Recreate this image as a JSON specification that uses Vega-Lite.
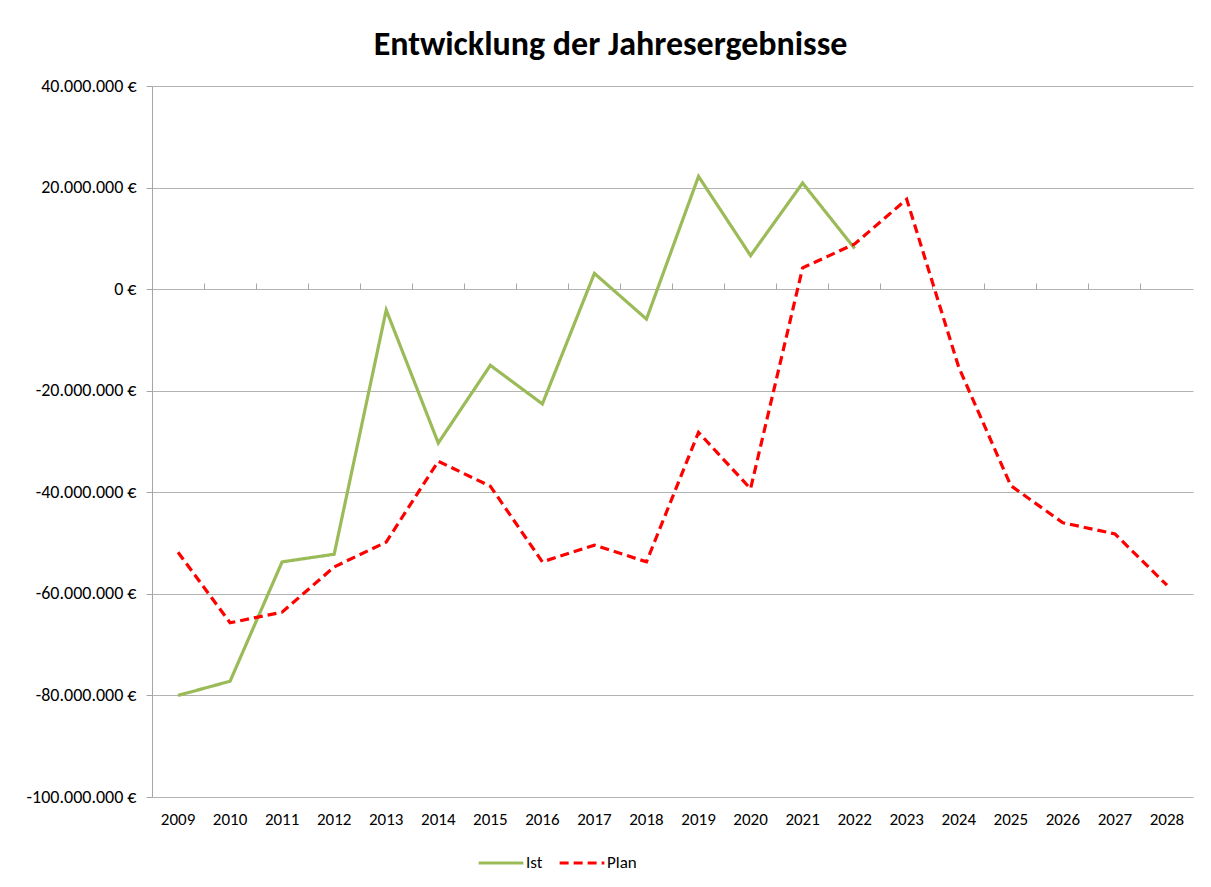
{
  "$schema": "https://vega.github.io/schema/vega-lite/v6.json",
  "width": 1041,
  "height": 711,
  "autosize": {"type": "none"},
  "padding": {"left": 152, "top": 86, "right": 18, "bottom": 90},
  "background": "white",
  "config": {
    "locale": {"number": {"decimal": ",", "thousands": ".", "grouping": [3], "currency": ["", " €"], "minus": "-"}},
    "font": "Carlito, Lato",
    "view": {"stroke": null}
  },
  "title": {
    "text": "Entwicklung der Jahresergebnisse",
    "fontSize": 34,
    "fontWeight": "bold",
    "font": "Carlito, Lato",
    "color": "#000000",
    "anchor": "middle",
    "dx": -62,
    "offset": 15
  },
  "data": {
    "values": [
      {"Jahr": "2009", "Reihe": "Ist", "Wert": -80000000},
      {"Jahr": "2010", "Reihe": "Ist", "Wert": -77200000},
      {"Jahr": "2011", "Reihe": "Ist", "Wert": -53700000},
      {"Jahr": "2012", "Reihe": "Ist", "Wert": -52200000},
      {"Jahr": "2013", "Reihe": "Ist", "Wert": -4100000},
      {"Jahr": "2014", "Reihe": "Ist", "Wert": -30300000},
      {"Jahr": "2015", "Reihe": "Ist", "Wert": -15000000},
      {"Jahr": "2016", "Reihe": "Ist", "Wert": -22600000},
      {"Jahr": "2017", "Reihe": "Ist", "Wert": 3100000},
      {"Jahr": "2018", "Reihe": "Ist", "Wert": -5900000},
      {"Jahr": "2019", "Reihe": "Ist", "Wert": 22200000},
      {"Jahr": "2020", "Reihe": "Ist", "Wert": 6600000},
      {"Jahr": "2021", "Reihe": "Ist", "Wert": 20900000},
      {"Jahr": "2022", "Reihe": "Ist", "Wert": 8000000},
      {"Jahr": "2009", "Reihe": "Plan", "Wert": -51800000},
      {"Jahr": "2010", "Reihe": "Plan", "Wert": -65700000},
      {"Jahr": "2011", "Reihe": "Plan", "Wert": -63600000},
      {"Jahr": "2012", "Reihe": "Plan", "Wert": -54700000},
      {"Jahr": "2013", "Reihe": "Plan", "Wert": -49800000},
      {"Jahr": "2014", "Reihe": "Plan", "Wert": -33900000},
      {"Jahr": "2015", "Reihe": "Plan", "Wert": -38800000},
      {"Jahr": "2016", "Reihe": "Plan", "Wert": -53700000},
      {"Jahr": "2017", "Reihe": "Plan", "Wert": -50400000},
      {"Jahr": "2018", "Reihe": "Plan", "Wert": -53700000},
      {"Jahr": "2019", "Reihe": "Plan", "Wert": -28200000},
      {"Jahr": "2020", "Reihe": "Plan", "Wert": -39300000},
      {"Jahr": "2021", "Reihe": "Plan", "Wert": 4200000},
      {"Jahr": "2022", "Reihe": "Plan", "Wert": 8900000},
      {"Jahr": "2023", "Reihe": "Plan", "Wert": 17700000},
      {"Jahr": "2024", "Reihe": "Plan", "Wert": -15400000},
      {"Jahr": "2025", "Reihe": "Plan", "Wert": -38700000},
      {"Jahr": "2026", "Reihe": "Plan", "Wert": -46000000},
      {"Jahr": "2027", "Reihe": "Plan", "Wert": -48200000},
      {"Jahr": "2028", "Reihe": "Plan", "Wert": -58300000}
    ]
  },
  "layer": [
    {
      "mark": {"type": "line", "strokeWidth": 3.2, "strokeCap": "butt", "strokeJoin": "miter"},
      "encoding": {
        "x": {
          "field": "Jahr",
          "type": "ordinal",
          "scale": {"type": "band", "paddingInner": 0, "paddingOuter": 0},
          "axis": {
            "orient": "bottom",
            "title": null,
            "labelAngle": 0,
            "ticks": false,
            "domain": false,
            "grid": false,
            "labelFontSize": 17,
            "labelColor": "#000000",
            "labelPadding": 14
          }
        },
        "y": {
          "field": "Wert",
          "type": "quantitative",
          "scale": {"domain": [-100000000, 40000000], "nice": false},
          "axis": {
            "title": null,
            "values": [-100000000, -80000000, -60000000, -40000000, -20000000, 0, 20000000, 40000000],
            "format": ",.0f",
            "labelExpr": "datum.label + ' €'",
            "labelFontSize": 18,
            "labelColor": "#000000",
            "labelPadding": 10,
            "grid": true,
            "gridColor": "#b3b3b3",
            "gridWidth": 1,
            "domain": true,
            "domainColor": "#a6a6a6",
            "ticks": true,
            "tickSize": 6,
            "tickColor": "#a6a6a6"
          }
        },
        "color": {
          "field": "Reihe",
          "type": "nominal",
          "scale": {"domain": ["Ist", "Plan"], "range": ["#9BBB59", "#FF0000"]},
          "legend": {
            "title": null,
            "orient": "none",
            "legendX": 325,
            "legendY": 753,
            "direction": "horizontal",
            "symbolType": "stroke",
            "symbolSize": 2000,
            "symbolStrokeWidth": 3.2,
            "labelFontSize": 17,
            "labelColor": "#000000",
            "columnPadding": 10,
            "labelOffset": 1
          }
        },
        "strokeDash": {
          "field": "Reihe",
          "type": "nominal",
          "scale": {"domain": ["Ist", "Plan"], "range": [[1, 0], [9, 5]]},
          "legend": {
            "title": null,
            "orient": "none",
            "legendX": 325,
            "legendY": 753,
            "direction": "horizontal",
            "symbolType": "stroke",
            "symbolSize": 2000,
            "symbolStrokeWidth": 3.2,
            "labelFontSize": 17,
            "labelColor": "#000000",
            "columnPadding": 10,
            "labelOffset": 1
          }
        }
      }
    },
    {
      "mark": {"type": "line", "opacity": 0},
      "encoding": {
        "x": {
          "field": "Jahr",
          "type": "ordinal",
          "scale": {"type": "band", "paddingInner": 0, "paddingOuter": 0},
          "axis": {
            "orient": "top",
            "offset": -203,
            "title": null,
            "labels": false,
            "domain": false,
            "grid": false,
            "ticks": true,
            "tickSize": 6,
            "tickColor": "#a6a6a6",
            "bandPosition": 0
          }
        },
        "y": {"field": "Wert", "type": "quantitative"}
      }
    }
  ],
  "resolve": {"axis": {"x": "independent"}}
}
